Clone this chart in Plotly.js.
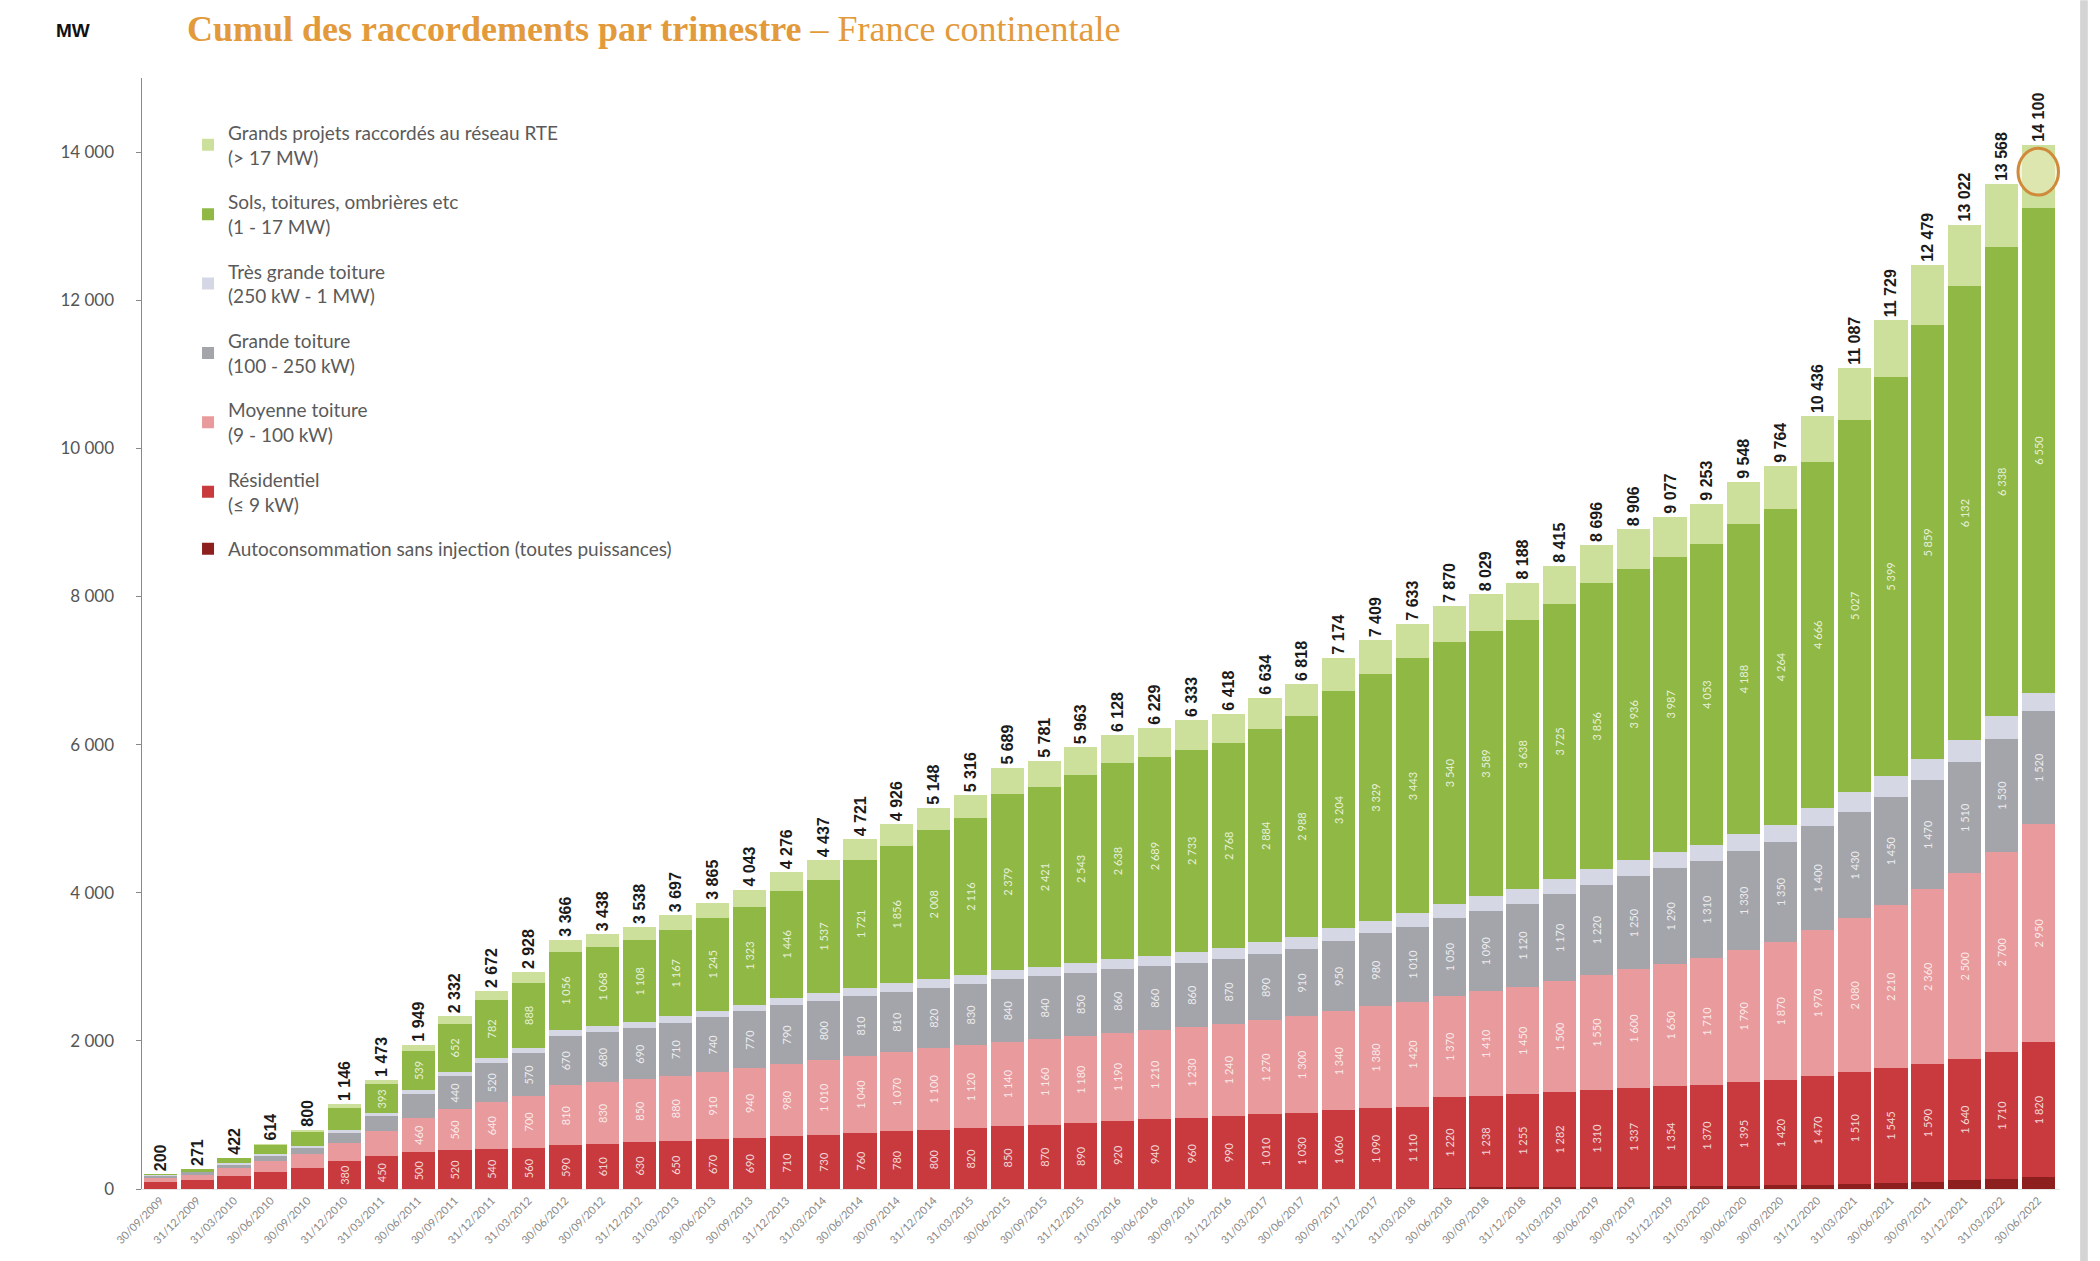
<!DOCTYPE html>
<html><head><meta charset="utf-8">
<script src="https://cdn.plot.ly/plotly-3.0.1.min.js"></script>
<style>html,body{margin:0;padding:0;background:#fff}#chart{width:2100px;height:1261px}</style>
</head><body><div id="chart"></div>
<script>
const quarters = ["30/09/2009","31/12/2009","31/03/2010","30/06/2010","30/09/2010","31/12/2010","31/03/2011","30/06/2011","30/09/2011","31/12/2011","31/03/2012","30/06/2012","30/09/2012","31/12/2012","31/03/2013","30/06/2013","30/09/2013","31/12/2013","31/03/2014","30/06/2014","30/09/2014","31/12/2014","31/03/2015","30/06/2015","30/09/2015","31/12/2015","31/03/2016","30/06/2016","30/09/2016","31/12/2016","31/03/2017","30/06/2017","30/09/2017","31/12/2017","31/03/2018","30/06/2018","30/09/2018","31/12/2018","31/03/2019","30/06/2019","30/09/2019","31/12/2019","31/03/2020","30/06/2020","30/09/2020","31/12/2020","31/03/2021","30/06/2021","30/09/2021","31/12/2021","31/03/2022","30/06/2022"];
const totals = [200,271,422,614,800,1146,1473,1949,2332,2672,2928,3366,3438,3538,3697,3865,4043,4276,4437,4721,4926,5148,5316,5689,5781,5963,6128,6229,6333,6418,6634,6818,7174,7409,7633,7870,8029,8188,8415,8696,8906,9077,9253,9548,9764,10436,11087,11729,12479,13022,13568,14100];
const autoconso = [0,0,0,0,0,0,0,0,0,0,0,0,0,0,0,0,0,0,0,0,0,0,0,0,0,0,0,0,0,0,0,0,0,0,0,20,22,25,28,30,33,36,40,45,50,60,70,85,100,120,140,160];
const residentiel = [90,120,170,230,290,380,450,500,520,540,560,590,610,630,650,670,690,710,730,760,780,800,820,850,870,890,920,940,960,990,1010,1030,1060,1090,1110,1220,1238,1255,1282,1310,1337,1354,1370,1395,1420,1470,1510,1545,1590,1640,1710,1820];
const moyenne = [60,75,110,150,180,240,330,460,560,640,700,810,830,850,880,910,940,980,1010,1040,1070,1100,1120,1140,1160,1180,1190,1210,1230,1240,1270,1300,1340,1380,1420,1370,1410,1450,1500,1550,1600,1650,1710,1790,1870,1970,2080,2210,2360,2500,2700,2950];
const grande = [25,30,50,70,90,140,200,320,440,520,570,670,680,690,710,740,770,790,800,810,810,820,830,840,840,850,860,860,860,870,890,910,950,980,1010,1050,1090,1120,1170,1220,1250,1290,1310,1330,1350,1400,1430,1450,1470,1510,1530,1520];
const tresGrande = [10,10,15,20,25,30,40,50,60,70,70,80,80,80,90,90,90,100,100,110,120,120,120,130,130,130,140,140,150,150,160,160,170,170,180,190,190,200,200,210,220,220,220,230,230,250,270,280,280,290,300,250];
const sols = [15,36,67,124,185,306,393,539,652,782,888,1056,1068,1108,1167,1245,1323,1446,1537,1721,1856,2008,2116,2379,2421,2543,2638,2689,2733,2768,2884,2988,3204,3329,3443,3540,3589,3638,3725,3856,3936,3987,4053,4188,4264,4666,5027,5399,5859,6132,6338,6550];
const grandsProjets = [0,0,10,20,30,50,60,80,100,120,140,160,170,180,200,210,230,250,260,280,290,300,310,350,360,370,380,390,400,400,420,430,450,460,470,480,490,500,510,520,530,540,550,570,580,620,700,760,820,830,850,850];

const seriesNames = [
  "Autoconsommation sans injection (toutes puissances)",
  "Résidentiel<br>(≤ 9 kW)",
  "Moyenne toiture<br>(9 - 100 kW)",
  "Grande toiture<br>(100 - 250 kW)",
  "Très grande toiture<br>(250 kW - 1 MW)",
  "Sols, toitures, ombrières etc<br>(1 - 17 MW)",
  "Grands projets raccordés au réseau RTE<br>(> 17 MW)"
];
const seriesColors = ["#8E1F1F","#C83A3E","#E89A9C","#A4A5AB","#D6D7E5","#8FB944","#CCE09B"];
const seriesData = [autoconso,residentiel,moyenne,grande,tresGrande,sols,grandsProjets];
const labelled = [false,true,true,true,false,true,false];

function fmt(v){return String(v).replace(/\B(?=(\d{3})+(?!\d))/g,' ');}

const traces = seriesData.map((d,i)=>{
  const t = {
    type:'bar', x:quarters, y:d, name:seriesNames[i],
    legendgroup:'g'+i, legendrank: 10-i,
    marker:{color:seriesColors[i], line:{width:0}},
    hoverinfo:'x+y+name'
  };
  if(labelled[i]){
    t.text = d.map(v=>v>=350?fmt(v):'');
    t.textposition='inside';
    t.insidetextanchor='middle';
    t.textangle=-90;
    t.insidetextfont={size:11,color:'rgba(255,255,255,0.8)',family:'Lato, sans-serif'};
  }
  if(i===6){
    t.text = totals.map(v=>'<b>'+fmt(v)+'</b>');
    t.textposition='outside';
    t.textangle=-90;
    t.outsidetextfont={size:16,color:'#1a1a1a',family:'Liberation Sans, Arial, sans-serif'};
    t.constraintext='none';
    t.cliponaxis=false;
  }
  return t;
});

const lastIdx = quarters.length-1;
const layout = {
  width:2100, height:1261,
  paper_bgcolor:'#fff', plot_bgcolor:'#fff',
  barmode:'stack', bargap:0.1,
  separators:', ',
  margin:{l:142,r:40,t:78,b:72},
  font:{family:'Lato, sans-serif', color:'#555'},
  title:{
    text:'<b>Cumul des raccordements par trimestre</b> – France continentale',
    font:{family:'Liberation Serif, DejaVu Serif, serif', size:36, color:'#E39A3B'},
    xref:'container', x:187/2100, xanchor:'left',
    yref:'container', y:1-28/1261, yanchor:'middle'
  },
  xaxis:{
    type:'category', tickangle:-45, tickfont:{size:11,color:'#888'},
    showline:true, linecolor:'#e4e4e4', ticks:'', showgrid:false, automargin:false
  },
  yaxis:{
    range:[0,15000], dtick:2000, tick0:0, tickformat:',d', separatethousands:true,
    showline:true, linecolor:'#888', linewidth:1.5, ticks:'outside', ticklen:5, tickcolor:'#888',
    ticklabelstandoff:18,
    tickfont:{size:17,color:'#555'}, showgrid:false, zeroline:false, automargin:false
  },
  legend:{
    x:0.024, y:0.968, xanchor:'left', yanchor:'top',
    traceorder:'grouped', tracegroupgap:17,
    font:{size:19,color:'#5a5a5a',family:'Lato, sans-serif'},
    bgcolor:'rgba(0,0,0,0)', itemwidth:30
  },
  annotations:[{
    text:'<b>MW</b>', xref:'paper', yref:'paper', showarrow:false,
    x:(54-142)/1918, xanchor:'left', y:1+(78-30)/1111, yanchor:'middle',
    font:{size:19,color:'#111',family:'Liberation Sans, Arial, sans-serif'}
  }],
  shapes:[
    {type:'circle', xref:'x', yref:'y', layer:'above',
     x0:lastIdx-0.55, x1:lastIdx+0.55,
     y0:totals[lastIdx]-680, y1:totals[lastIdx]-50,
     fillcolor:'rgba(235,235,190,0.55)', line:{color:'#D08A3A',width:3}},
    {type:'rect', xref:'paper', yref:'paper', x0:1.0105, x1:1.0145, y0:-0.065, y1:1.07,
     fillcolor:'#d4d4d4', line:{width:0}}
  ]
};
Plotly.newPlot('chart', traces, layout, {displayModeBar:false, staticPlot:true});
</script></body></html>
